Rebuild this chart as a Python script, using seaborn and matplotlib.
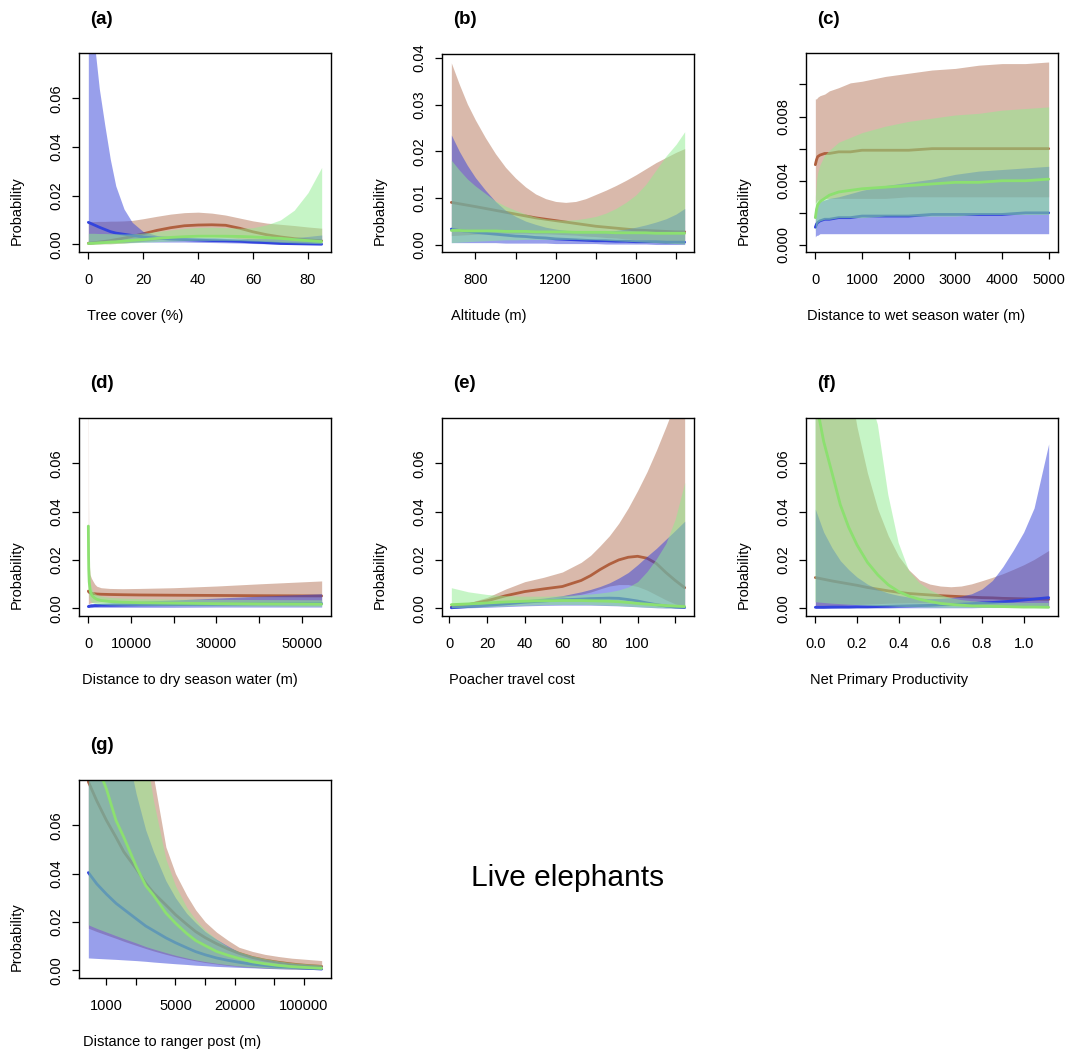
import numpy as np
import matplotlib
matplotlib.use("Agg")
import matplotlib.pyplot as plt
from matplotlib.ticker import NullLocator
import seaborn as sns

# ---------------- data ----------------
# (a) tree cover
A_X = [0, 2, 4, 6, 8, 10, 13, 16, 20, 25, 30, 35, 40, 45, 50, 55, 60, 65, 70, 75, 80, 85]
A_BROWN_LO = [0.0000, 0.0001, 0.0001, 0.0002, 0.0002, 0.0003, 0.0005, 0.0008, 0.0012, 0.0018, 0.0025, 0.0029, 0.0032, 0.0031, 0.0028, 0.0023, 0.0017, 0.0012, 0.0008, 0.0005, 0.0003, 0.0002]
A_BROWN_MID = [0.0004, 0.0006, 0.0009, 0.0012, 0.0015, 0.0019, 0.0025, 0.0032, 0.0043, 0.0057, 0.0068, 0.0076, 0.0079, 0.0080, 0.0078, 0.0066, 0.0051, 0.0039, 0.0030, 0.0023, 0.0018, 0.0014]
A_BROWN_HI = [0.0093, 0.0093, 0.0094, 0.0094, 0.0095, 0.0095, 0.0096, 0.0098, 0.0105, 0.0115, 0.0124, 0.0130, 0.0132, 0.0128, 0.0120, 0.0108, 0.0096, 0.0087, 0.0082, 0.0077, 0.0071, 0.0066]
A_BLUE_LO = [0.0006, 0.0006, 0.0007, 0.0007, 0.0007, 0.0008, 0.0008, 0.0008, 0.0009, 0.0009, 0.0009, 0.0009, 0.0008, 0.0007, 0.0006, 0.0005, 0.0003, 0.0002, 0.0001, 0.0001, 0.0000, 0.0000]
A_BLUE_MID = [0.0090, 0.0080, 0.0070, 0.0061, 0.0052, 0.0046, 0.0041, 0.0036, 0.0030, 0.0025, 0.0021, 0.0019, 0.0017, 0.0015, 0.0014, 0.0012, 0.0009, 0.0006, 0.0003, 0.0002, 0.0001, 0.0000]
A_BLUE_HI = [0.11, 0.085, 0.064, 0.049, 0.035, 0.024, 0.0145, 0.0090, 0.0052, 0.0036, 0.0032, 0.0030, 0.0029, 0.0028, 0.0026, 0.0024, 0.0023, 0.0023, 0.0024, 0.0027, 0.0032, 0.0038]
A_GREEN_LO = [0.0000, 0.0001, 0.0001, 0.0002, 0.0002, 0.0003, 0.0004, 0.0006, 0.0008, 0.0011, 0.0013, 0.0015, 0.0016, 0.0016, 0.0016, 0.0015, 0.0013, 0.0011, 0.0008, 0.0006, 0.0004, 0.0002]
A_GREEN_MID = [0.0003, 0.0004, 0.0006, 0.0007, 0.0009, 0.0010, 0.0013, 0.0016, 0.0019, 0.0024, 0.0028, 0.0031, 0.0033, 0.0033, 0.0033, 0.0032, 0.0030, 0.0027, 0.0024, 0.0019, 0.0015, 0.0011]
A_GREEN_HI = [0.0045, 0.0045, 0.0044, 0.0044, 0.0043, 0.0043, 0.0042, 0.0043, 0.0046, 0.0052, 0.0059, 0.0065, 0.0069, 0.0070, 0.0068, 0.0066, 0.0068, 0.0080, 0.0100, 0.0140, 0.0212, 0.0316]

# (b) altitude
B_X = [680, 720, 760, 800, 850, 900, 950, 1000, 1050, 1100, 1150, 1200, 1250, 1300, 1350, 1400, 1450, 1500, 1550, 1600, 1650, 1700, 1750, 1800, 1843]
B_BROWN_LO = [0.0020, 0.0021, 0.0022, 0.0023, 0.0024, 0.0025, 0.0025, 0.0025, 0.0025, 0.0024, 0.0024, 0.0023, 0.0022, 0.0021, 0.0019, 0.0018, 0.0016, 0.0015, 0.0013, 0.0011, 0.0010, 0.0008, 0.0007, 0.0005, 0.0004]
B_BROWN_MID = [0.0091, 0.0088, 0.0085, 0.0082, 0.0078, 0.0074, 0.0070, 0.0066, 0.0062, 0.0058, 0.0055, 0.0052, 0.0049, 0.0046, 0.0043, 0.0040, 0.0038, 0.0036, 0.0034, 0.0032, 0.0031, 0.0030, 0.0029, 0.0028, 0.0028]
B_BROWN_HI = [0.0389, 0.0343, 0.0301, 0.0267, 0.0229, 0.0195, 0.0166, 0.0143, 0.0124, 0.0109, 0.0099, 0.0093, 0.0091, 0.0093, 0.0099, 0.0108, 0.0117, 0.0127, 0.0138, 0.0150, 0.0163, 0.0176, 0.0187, 0.0198, 0.0206]
B_BLUE_LO = [0.0005, 0.0005, 0.0005, 0.0005, 0.0005, 0.0005, 0.0004, 0.0004, 0.0004, 0.0004, 0.0004, 0.0003, 0.0003, 0.0003, 0.0003, 0.0003, 0.0002, 0.0002, 0.0002, 0.0002, 0.0002, 0.0001, 0.0001, 0.0001, 0.0001]
B_BLUE_MID = [0.0034, 0.0031, 0.0029, 0.0027, 0.0025, 0.0023, 0.0021, 0.0019, 0.0018, 0.0016, 0.0015, 0.0013, 0.0012, 0.0011, 0.0010, 0.0009, 0.0009, 0.0008, 0.0008, 0.0007, 0.0007, 0.0007, 0.0006, 0.0006, 0.0006]
B_BLUE_HI = [0.0235, 0.0200, 0.0170, 0.0144, 0.0117, 0.0093, 0.0074, 0.0061, 0.0051, 0.0044, 0.0038, 0.0034, 0.0031, 0.0029, 0.0028, 0.0028, 0.0029, 0.0031, 0.0034, 0.0038, 0.0043, 0.0049, 0.0056, 0.0066, 0.0078]
B_GREEN_LO = [0.0005, 0.0006, 0.0007, 0.0008, 0.0009, 0.0010, 0.0011, 0.0011, 0.0012, 0.0012, 0.0012, 0.0012, 0.0012, 0.0012, 0.0011, 0.0011, 0.0010, 0.0009, 0.0008, 0.0007, 0.0006, 0.0005, 0.0004, 0.0003, 0.0002]
B_GREEN_MID = [0.0031, 0.0031, 0.0030, 0.0030, 0.0030, 0.0030, 0.0029, 0.0029, 0.0029, 0.0028, 0.0028, 0.0028, 0.0028, 0.0027, 0.0027, 0.0027, 0.0027, 0.0026, 0.0026, 0.0026, 0.0026, 0.0025, 0.0025, 0.0025, 0.0025]
B_GREEN_HI = [0.0181, 0.0160, 0.0141, 0.0126, 0.0110, 0.0094, 0.0083, 0.0074, 0.0066, 0.0060, 0.0056, 0.0054, 0.0053, 0.0054, 0.0057, 0.0061, 0.0068, 0.0078, 0.0091, 0.0107, 0.0130, 0.0160, 0.0190, 0.0215, 0.0242]

# (c) distance to wet season water
C_X = [0, 25, 50, 100, 200, 300, 500, 750, 1000, 1500, 2000, 2500, 3000, 3500, 4000, 4500, 5000]
C_BROWN_LO = [0.0026, 0.0027, 0.0028, 0.0028, 0.0029, 0.0029, 0.0029, 0.0029, 0.0029, 0.0029, 0.0030, 0.0030, 0.0030, 0.0030, 0.0030, 0.0030, 0.0030]
C_BROWN_MID = [0.0050, 0.0053, 0.0055, 0.0056, 0.0057, 0.0057, 0.0058, 0.0058, 0.0059, 0.0059, 0.0059, 0.0060, 0.0060, 0.0060, 0.0060, 0.0060, 0.0060]
C_BROWN_HI = [0.0091, 0.0091, 0.0092, 0.0093, 0.0094, 0.0096, 0.0098, 0.0101, 0.0102, 0.0105, 0.0107, 0.0109, 0.0110, 0.0112, 0.0113, 0.0113, 0.0114]
C_BLUE_LO = [0.0005, 0.0006, 0.0006, 0.0007, 0.0007, 0.0007, 0.0007, 0.0007, 0.0007, 0.0007, 0.0007, 0.0007, 0.0007, 0.0007, 0.0007, 0.0007, 0.0007]
C_BLUE_MID = [0.0011, 0.0013, 0.0014, 0.0015, 0.0016, 0.0016, 0.0017, 0.0017, 0.0018, 0.0018, 0.0018, 0.0019, 0.0019, 0.0019, 0.0019, 0.0020, 0.0020]
C_BLUE_HI = [0.0023, 0.0025, 0.0026, 0.0027, 0.0028, 0.0029, 0.0030, 0.0032, 0.0034, 0.0037, 0.0039, 0.0041, 0.0044, 0.0046, 0.0047, 0.0048, 0.0049]
C_GREEN_LO = [0.0009, 0.0012, 0.0014, 0.0015, 0.0016, 0.0016, 0.0017, 0.0017, 0.0017, 0.0018, 0.0018, 0.0018, 0.0018, 0.0019, 0.0019, 0.0019, 0.0019]
C_GREEN_MID = [0.0017, 0.0022, 0.0025, 0.0027, 0.0029, 0.0031, 0.0033, 0.0034, 0.0035, 0.0036, 0.0037, 0.0038, 0.0039, 0.0039, 0.0040, 0.0040, 0.0041]
C_GREEN_HI = [0.0030, 0.0040, 0.0045, 0.0050, 0.0056, 0.0059, 0.0064, 0.0067, 0.0070, 0.0074, 0.0077, 0.0079, 0.0081, 0.0082, 0.0084, 0.0085, 0.0086]

# (d) distance to dry season water
D_X = [0, 50, 100, 200, 400, 700, 1000, 1500, 2000, 3000, 5000, 8000, 12000, 20000, 30000, 40000, 54700]
D_BROWN_LO = [0.0012, 0.0015, 0.0018, 0.0020, 0.0022, 0.0023, 0.0024, 0.0025, 0.0025, 0.0026, 0.0026, 0.0026, 0.0026, 0.0025, 0.0024, 0.0023, 0.0022]
D_BROWN_MID = [0.0071, 0.0069, 0.0068, 0.0066, 0.0064, 0.0062, 0.0061, 0.0060, 0.0059, 0.0058, 0.0057, 0.0056, 0.0055, 0.0054, 0.0053, 0.0052, 0.0051]
D_BROWN_HI = [0.20, 0.045, 0.028, 0.019, 0.014, 0.0125, 0.0115, 0.0100, 0.0091, 0.0085, 0.0082, 0.0081, 0.0082, 0.0085, 0.0092, 0.0101, 0.0113]
D_BLUE_LO = [0.0003, 0.0003, 0.0003, 0.0003, 0.0003, 0.0003, 0.0004, 0.0004, 0.0004, 0.0004, 0.0004, 0.0004, 0.0004, 0.0004, 0.0005, 0.0005, 0.0005]
D_BLUE_MID = [0.0007, 0.0007, 0.0008, 0.0008, 0.0009, 0.0010, 0.0010, 0.0011, 0.0011, 0.0012, 0.0012, 0.0013, 0.0014, 0.0015, 0.0016, 0.0018, 0.0019]
D_BLUE_HI = [0.0015, 0.0015, 0.0016, 0.0016, 0.0017, 0.0018, 0.0018, 0.0019, 0.0020, 0.0021, 0.0023, 0.0026, 0.0029, 0.0034, 0.0042, 0.0050, 0.0060]
D_GREEN_LO = [0.010, 0.008, 0.006, 0.0045, 0.0033, 0.0027, 0.0023, 0.0020, 0.0018, 0.0016, 0.0014, 0.0013, 0.0012, 0.0011, 0.0010, 0.0009, 0.0008]
D_GREEN_MID = [0.034, 0.022, 0.016, 0.011, 0.0075, 0.0058, 0.0050, 0.0042, 0.0037, 0.0032, 0.0028, 0.0025, 0.0023, 0.0021, 0.0019, 0.0018, 0.0017]
D_GREEN_HI = [0.035, 0.028, 0.022, 0.016, 0.011, 0.0085, 0.0072, 0.0062, 0.0056, 0.0050, 0.0045, 0.0042, 0.0040, 0.0038, 0.0037, 0.0036, 0.0035]

# (e) poacher travel cost
E_X = [1, 10, 20, 30, 40, 50, 60, 70, 75, 80, 85, 90, 95, 100, 105, 110, 115, 120, 125]
E_BROWN_LO = [0.0001, 0.0005, 0.0012, 0.0020, 0.0030, 0.0038, 0.0045, 0.0058, 0.0067, 0.0080, 0.0092, 0.0098, 0.0098, 0.0090, 0.0075, 0.0055, 0.0035, 0.0018, 0.0008]
E_BROWN_MID = [0.0005, 0.0015, 0.0031, 0.0052, 0.0069, 0.0080, 0.0090, 0.0115, 0.0135, 0.0160, 0.0182, 0.0200, 0.0211, 0.0215, 0.0207, 0.0185, 0.0148, 0.0115, 0.0085]
E_BROWN_HI = [0.0011, 0.0022, 0.0045, 0.0080, 0.0110, 0.0128, 0.0150, 0.0190, 0.0219, 0.0258, 0.0300, 0.0352, 0.0415, 0.0487, 0.0565, 0.0654, 0.0750, 0.085, 0.097]
E_BLUE_LO = [0.0001, 0.0002, 0.0004, 0.0007, 0.0010, 0.0012, 0.0013, 0.0013, 0.0013, 0.0012, 0.0011, 0.0010, 0.0008, 0.0006, 0.0004, 0.0002, 0.0001, 0.0001, 0.0000]
E_BLUE_MID = [0.0002, 0.0007, 0.0012, 0.0018, 0.0025, 0.0030, 0.0035, 0.0038, 0.0040, 0.0041, 0.0042, 0.0041, 0.0036, 0.0030, 0.0022, 0.0015, 0.0009, 0.0005, 0.0003]
E_BLUE_HI = [0.0008, 0.0013, 0.0020, 0.0028, 0.0035, 0.0042, 0.0052, 0.0068, 0.0078, 0.0090, 0.0105, 0.0125, 0.0148, 0.0180, 0.0215, 0.0248, 0.0285, 0.0322, 0.0360]
E_GREEN_LO = [0.0002, 0.0004, 0.0007, 0.0010, 0.0013, 0.0015, 0.0016, 0.0016, 0.0015, 0.0014, 0.0013, 0.0011, 0.0009, 0.0007, 0.0005, 0.0003, 0.0002, 0.0001, 0.0001]
E_GREEN_MID = [0.0015, 0.0018, 0.0022, 0.0026, 0.0029, 0.0031, 0.0032, 0.0032, 0.0031, 0.0030, 0.0029, 0.0027, 0.0024, 0.0020, 0.0017, 0.0014, 0.0011, 0.0009, 0.0007]
E_GREEN_HI = [0.0085, 0.0068, 0.0057, 0.0052, 0.0050, 0.0050, 0.0052, 0.0056, 0.0059, 0.0063, 0.0068, 0.0076, 0.0088, 0.0110, 0.0152, 0.0205, 0.0268, 0.0370, 0.0520]

# (f) net primary productivity
F_X = [0, 0.04, 0.08, 0.12, 0.16, 0.2, 0.25, 0.3, 0.35, 0.4, 0.45, 0.5, 0.55, 0.6, 0.65, 0.7, 0.75, 0.8, 0.85, 0.9, 0.95, 1.0, 1.05, 1.12]
F_BROWN_LO = [0.0005, 0.0007, 0.0009, 0.0011, 0.0013, 0.0015, 0.0017, 0.0019, 0.0021, 0.0022, 0.0023, 0.0023, 0.0023, 0.0022, 0.0021, 0.0020, 0.0018, 0.0016, 0.0014, 0.0012, 0.0010, 0.0009, 0.0007, 0.0005]
F_BROWN_MID = [0.0127, 0.0120, 0.0113, 0.0107, 0.0101, 0.0095, 0.0086, 0.0079, 0.0072, 0.0066, 0.0061, 0.0058, 0.0055, 0.0052, 0.0050, 0.0048, 0.0046, 0.0044, 0.0043, 0.0041, 0.0040, 0.0039, 0.0038, 0.0037]
F_BROWN_HI = [0.30, 0.22, 0.165, 0.125, 0.095, 0.075, 0.056, 0.041, 0.030, 0.0215, 0.0158, 0.0117, 0.0100, 0.0092, 0.0089, 0.0092, 0.0101, 0.0114, 0.0128, 0.0143, 0.0161, 0.0180, 0.0202, 0.0239]
F_BLUE_LO = [0.0000, 0.0000, 0.0000, 0.0001, 0.0001, 0.0001, 0.0001, 0.0001, 0.0001, 0.0002, 0.0002, 0.0002, 0.0002, 0.0002, 0.0002, 0.0002, 0.0002, 0.0003, 0.0003, 0.0003, 0.0003, 0.0003, 0.0003, 0.0003]
F_BLUE_MID = [0.0004, 0.0004, 0.0005, 0.0005, 0.0005, 0.0006, 0.0006, 0.0007, 0.0008, 0.0009, 0.0010, 0.0011, 0.0012, 0.0014, 0.0015, 0.0017, 0.0019, 0.0022, 0.0024, 0.0027, 0.0030, 0.0034, 0.0038, 0.0044]
F_BLUE_HI = [0.041, 0.0315, 0.0250, 0.0197, 0.0160, 0.0129, 0.0100, 0.0078, 0.0063, 0.0053, 0.0046, 0.0042, 0.0040, 0.0041, 0.0044, 0.0050, 0.0060, 0.0080, 0.0115, 0.0172, 0.0240, 0.0315, 0.0415, 0.0680]
F_GREEN_LO = [0.0025, 0.0022, 0.0019, 0.0017, 0.0015, 0.0013, 0.0011, 0.0009, 0.0008, 0.0006, 0.0005, 0.0004, 0.0003, 0.0003, 0.0002, 0.0002, 0.0002, 0.0002, 0.0001, 0.0001, 0.0001, 0.0001, 0.0001, 0.0001]
F_GREEN_MID = [0.087, 0.069, 0.056, 0.0428, 0.0335, 0.0262, 0.0190, 0.0138, 0.0097, 0.0069, 0.0050, 0.0037, 0.0028, 0.0020, 0.0016, 0.0013, 0.0010, 0.0009, 0.0008, 0.0007, 0.0006, 0.0005, 0.0005, 0.0004]
F_GREEN_HI = [0.60, 0.42, 0.30, 0.21, 0.15, 0.115, 0.090, 0.076, 0.047, 0.027, 0.0155, 0.0105, 0.0075, 0.0055, 0.0042, 0.0034, 0.0029, 0.0026, 0.0024, 0.0023, 0.0022, 0.0022, 0.0022, 0.0022]

# (g) distance to ranger post (log axis)
G_X = [656, 800, 1000, 1250, 1500, 2000, 2500, 3000, 4000, 5000, 6500, 8000, 10000, 13000, 17000, 22000, 30000, 40000, 55000, 75000, 100000, 151000]
G_BROWN_LO = [0.0174, 0.0160, 0.0146, 0.0132, 0.0120, 0.0103, 0.0090, 0.0080, 0.0066, 0.0056, 0.0046, 0.0039, 0.0032, 0.0026, 0.0020, 0.0016, 0.0012, 0.0009, 0.0007, 0.0005, 0.0004, 0.0003]
G_BROWN_MID = [0.078, 0.070, 0.062, 0.055, 0.049, 0.042, 0.036, 0.032, 0.027, 0.023, 0.019, 0.016, 0.0135, 0.011, 0.0088, 0.0070, 0.0053, 0.0042, 0.0033, 0.0026, 0.0021, 0.0016]
G_BROWN_HI = [0.35, 0.30, 0.25, 0.20, 0.17, 0.125, 0.098, 0.080, 0.051, 0.040, 0.031, 0.025, 0.020, 0.0158, 0.0124, 0.0095, 0.0078, 0.0066, 0.0057, 0.0050, 0.0046, 0.0040]
G_BLUE_LO = [0.0051, 0.0049, 0.0047, 0.0045, 0.0043, 0.0040, 0.0037, 0.0034, 0.0030, 0.0027, 0.0024, 0.0021, 0.0019, 0.0016, 0.0014, 0.0012, 0.0010, 0.0008, 0.0006, 0.0005, 0.0004, 0.0003]
G_BLUE_MID = [0.0404, 0.0357, 0.0315, 0.0277, 0.0252, 0.0213, 0.0183, 0.0164, 0.0134, 0.0114, 0.0093, 0.0077, 0.0064, 0.0051, 0.0041, 0.0033, 0.0025, 0.0020, 0.0015, 0.0012, 0.0009, 0.0005]
G_BLUE_HI = [0.25, 0.20, 0.155, 0.12, 0.097, 0.073, 0.058, 0.049, 0.037, 0.030, 0.0235, 0.0197, 0.0160, 0.0128, 0.0100, 0.0075, 0.0058, 0.0046, 0.0037, 0.0029, 0.0025, 0.0020]
G_GREEN_LO = [0.0188, 0.0173, 0.0158, 0.0143, 0.0131, 0.0113, 0.0098, 0.0088, 0.0073, 0.0062, 0.0051, 0.0043, 0.0036, 0.0029, 0.0023, 0.0018, 0.0014, 0.0011, 0.0008, 0.0006, 0.0005, 0.0004]
G_GREEN_MID = [0.098, 0.085, 0.075, 0.062, 0.055, 0.043, 0.035, 0.031, 0.0237, 0.0195, 0.0152, 0.0123, 0.0102, 0.0078, 0.0062, 0.0049, 0.0035, 0.0027, 0.0020, 0.0015, 0.0012, 0.0008]
G_GREEN_HI = [0.30, 0.26, 0.22, 0.18, 0.15, 0.11, 0.090, 0.070, 0.046, 0.035, 0.026, 0.021, 0.0167, 0.0128, 0.0097, 0.0077, 0.0060, 0.0049, 0.0039, 0.0032, 0.0028, 0.0023]

# ---------------- style ----------------
BROWN_BAND = (0.63, 0.32, 0.18, 0.40)
BLUE_BAND = (0.20, 0.25, 0.85, 0.50)
GREEN_BAND = (0.56, 0.93, 0.56, 0.50)
BROWN_LINE = "#b0603f"
BLUE_LINE = "#3344dd"
GREEN_LINE = "#8ce070"

W, H = 1072, 1053
FS = 10.5

sns.set_style("ticks")
plt.rcParams["font.family"] = ["Liberation Sans", "DejaVu Sans"]
plt.rcParams["text.color"] = "black"

fig = plt.figure(figsize=(W / 100, H / 100), dpi=100)


def add_panel(box):
    left, top, right, bottom = box
    return fig.add_axes([left / W, 1 - bottom / H, (right - left) / W, (bottom - top) / H])


def draw_panel(ax, x, groups):
    # brown, then blue, then green; each band followed by its fitted line,
    # so later bands tint the earlier lines as in the original
    z = 1
    for lo, mid, hi, band, line in groups:
        ax.fill_between(x, lo, hi, color=band, lw=0, zorder=z)
        sns.lineplot(x=x, y=mid, ax=ax, color=line, lw=2.0, estimator=None,
                     sort=False, zorder=z + 1)
        z += 2


def style_panel(ax, box, tag, xlabel, xticks, xlabels, yticks, ylabels, ylim,
                xlabel_left, x, log=False):
    left, top, right, bottom = box
    if log:
        ax.set_xscale("log")
        lx = np.log10([min(x), max(x)])
        pad = 0.04 * (lx[1] - lx[0])
        ax.set_xlim(10 ** (lx[0] - pad), 10 ** (lx[1] + pad))
        ax.xaxis.set_minor_locator(NullLocator())
    else:
        pad = 0.04 * (max(x) - min(x))
        ax.set_xlim(min(x) - pad, max(x) + pad)
    ax.set_ylim(*ylim)
    ax.set_xticks(xticks)
    ax.set_xticklabels(xlabels)
    ax.set_yticks(yticks)
    ax.set_yticklabels(ylabels)
    ax.set_xlabel("")
    ax.set_ylabel("")
    for s in ax.spines.values():
        s.set_visible(True)
        s.set_color("black")
        s.set_linewidth(1.0)
        s.set_zorder(10)
    ax.tick_params(axis="both", direction="out", length=5, width=0.9,
                   color="black", labelsize=FS, labelcolor="black")
    ax.tick_params(axis="x", pad=10)
    ax.tick_params(axis="y", pad=6.5, labelrotation=90)
    for lab in ax.get_yticklabels():
        lab.set_va("center")
    fig.text((left + 11) / W, 1 - (top - 34) / H, tag, fontsize=13.5,
             fontweight="bold", ha="left", va="center")
    fig.text(xlabel_left / W, 1 - (bottom + 64) / H, xlabel, fontsize=FS,
             ha="left", va="center")
    fig.text((left - 62) / W, 1 - (bottom - 7) / H, "Probability", fontsize=FS,
             rotation=90, ha="center", va="bottom")


PROB_TICKS = [0, 0.02, 0.04, 0.06]
PROB_LABELS = ["0.00", "0.02", "0.04", "0.06"]
PROB_LIM = (-0.0032, 0.0787)

panels = [
    dict(box=(79, 53, 331, 252), tag="(a)", xlabel="Tree cover (%)", xl=87,
         x=A_X, groups=[(A_BROWN_LO, A_BROWN_MID, A_BROWN_HI), (A_BLUE_LO, A_BLUE_MID, A_BLUE_HI),
                        (A_GREEN_LO, A_GREEN_MID, A_GREEN_HI)],
         xticks=[0, 20, 40, 60, 80], xlabels=["0", "20", "40", "60", "80"],
         yticks=PROB_TICKS, ylabels=PROB_LABELS, ylim=PROB_LIM),
    dict(box=(442, 54, 694, 252), tag="(b)", xlabel="Altitude (m)", xl=451,
         x=B_X, groups=[(B_BROWN_LO, B_BROWN_MID, B_BROWN_HI), (B_BLUE_LO, B_BLUE_MID, B_BLUE_HI),
                        (B_GREEN_LO, B_GREEN_MID, B_GREEN_HI)],
         xticks=[800, 1000, 1200, 1400, 1600, 1800], xlabels=["800", "", "1200", "", "1600", ""],
         yticks=[0, 0.01, 0.02, 0.03, 0.04], ylabels=["0.00", "0.01", "0.02", "0.03", "0.04"],
         ylim=(-0.0015, 0.0408)),
    dict(box=(806, 53, 1058, 252), tag="(c)", xlabel="Distance to wet season water (m)", xl=807,
         x=C_X, groups=[(C_BROWN_LO, C_BROWN_MID, C_BROWN_HI), (C_BLUE_LO, C_BLUE_MID, C_BLUE_HI),
                        (C_GREEN_LO, C_GREEN_MID, C_GREEN_HI)],
         xticks=[0, 1000, 2000, 3000, 4000, 5000],
         xlabels=["0", "1000", "2000", "3000", "4000", "5000"],
         yticks=[0, 0.002, 0.004, 0.006, 0.008, 0.010],
         ylabels=["0.000", "", "0.004", "", "0.008", ""], ylim=(-0.00044, 0.01196)),
    dict(box=(79, 418, 331, 616), tag="(d)", xlabel="Distance to dry season water (m)", xl=82,
         x=D_X, groups=[(D_BROWN_LO, D_BROWN_MID, D_BROWN_HI), (D_BLUE_LO, D_BLUE_MID, D_BLUE_HI),
                        (D_GREEN_LO, D_GREEN_MID, D_GREEN_HI)],
         xticks=[0, 10000, 20000, 30000, 40000, 50000],
         xlabels=["0", "10000", "", "30000", "", "50000"],
         yticks=PROB_TICKS, ylabels=PROB_LABELS, ylim=PROB_LIM),
    dict(box=(442, 418, 694, 616), tag="(e)", xlabel="Poacher travel cost", xl=449,
         x=E_X, groups=[(E_BROWN_LO, E_BROWN_MID, E_BROWN_HI), (E_BLUE_LO, E_BLUE_MID, E_BLUE_HI),
                        (E_GREEN_LO, E_GREEN_MID, E_GREEN_HI)],
         xticks=[0, 20, 40, 60, 80, 100, 120],
         xlabels=["0", "20", "40", "60", "80", "100", ""],
         yticks=PROB_TICKS, ylabels=PROB_LABELS, ylim=PROB_LIM),
    dict(box=(806, 418, 1058, 616), tag="(f)", xlabel="Net Primary Productivity", xl=810,
         x=F_X, groups=[(F_BROWN_LO, F_BROWN_MID, F_BROWN_HI), (F_BLUE_LO, F_BLUE_MID, F_BLUE_HI),
                        (F_GREEN_LO, F_GREEN_MID, F_GREEN_HI)],
         xticks=[0, 0.2, 0.4, 0.6, 0.8, 1.0],
         xlabels=["0.0", "0.2", "0.4", "0.6", "0.8", "1.0"],
         yticks=PROB_TICKS, ylabels=PROB_LABELS, ylim=PROB_LIM),
    dict(box=(79, 780, 331, 978), tag="(g)", xlabel="Distance to ranger post (m)", xl=83,
         x=G_X, groups=[(G_BROWN_LO, G_BROWN_MID, G_BROWN_HI), (G_BLUE_LO, G_BLUE_MID, G_BLUE_HI),
                        (G_GREEN_LO, G_GREEN_MID, G_GREEN_HI)],
         xticks=[1000, 2000, 5000, 10000, 20000, 50000, 100000],
         xlabels=["1000", "", "5000", "", "20000", "", "100000"],
         yticks=PROB_TICKS, ylabels=PROB_LABELS, ylim=PROB_LIM, log=True),
]

colours = [(BROWN_BAND, BROWN_LINE), (BLUE_BAND, BLUE_LINE), (GREEN_BAND, GREEN_LINE)]

for p in panels:
    ax = add_panel(p["box"])
    groups = [(lo, mid, hi, band, line) for (lo, mid, hi), (band, line) in zip(p["groups"], colours)]
    draw_panel(ax, p["x"], groups)
    style_panel(ax, p["box"], p["tag"], p["xlabel"], p["xticks"], p["xlabels"],
                p["yticks"], p["ylabels"], p["ylim"], p["xl"], p["x"], log=p.get("log", False))

fig.text(568 / W, 1 - 878 / H, "Live elephants", fontsize=21.5, ha="center", va="center")

fig.savefig("out.png", dpi=100)
